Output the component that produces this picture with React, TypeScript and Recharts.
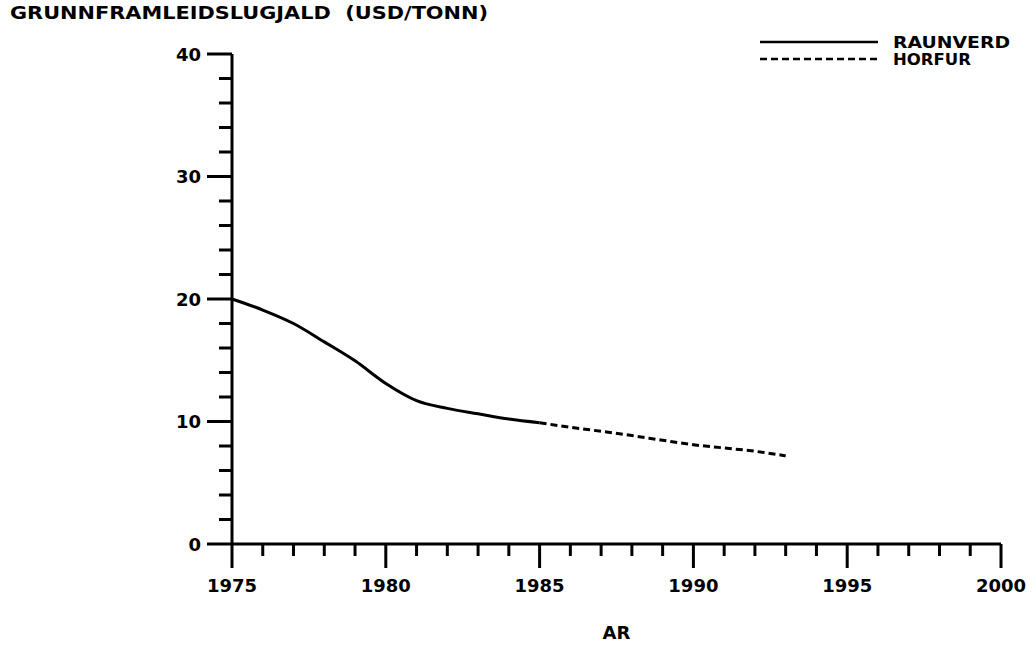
import { LineChart, Line, XAxis, YAxis, Legend } from "recharts"

const years = [1975, 1976, 1977, 1978, 1979, 1980, 1981, 1982, 1983, 1984, 1985, 1986, 1987, 1988, 1989, 1990, 1991, 1992, 1993]
// actual values 1975-1985, forecast 1985-1993
const raunverd = [20.0, 19.1, 18.0, 16.5, 14.95, 13.1, 11.7, 11.07, 10.63, 10.2, 9.9]
const horfur = [9.9, 9.53, 9.2, 8.85, 8.47, 8.1, 7.84, 7.57, 7.2]
const xTicks = [1975, 1976, 1977, 1978, 1979, 1980, 1981, 1982, 1983, 1984, 1985, 1986, 1987, 1988, 1989, 1990, 1991, 1992, 1993, 1994, 1995, 1996, 1997, 1998, 1999, 2000]
const yTicks = [0, 2, 4, 6, 8, 10, 12, 14, 16, 18, 20, 22, 24, 26, 28, 30, 32, 34, 36, 38, 40]
const legendOrder = ["RAUNVERD", "HORFUR"]

const data = years.map((year, i) => ({
  year,
  raunverd: i < raunverd.length ? raunverd[i] : null,
  horfur: i >= raunverd.length - 1 ? horfur[i - (raunverd.length - 1)] : null,
}))

const font = "'DejaVu Sans', sans-serif"
const legendTextWidth: Record<string, number> = { RAUNVERD: 117, HORFUR: 78 }

const XTick = (props: any) => {
  const { x, y, payload } = props
  const major = payload.value % 5 === 0
  return (
    <g>
      <line x1={x} y1={y} x2={x} y2={y + (major ? 24 : 12)} stroke="#000" strokeWidth={3} />
      {major && (
        <text x={x} y={y + 48} textAnchor="middle" fontFamily={font} fontWeight="bold" fontSize={18} fill="#000">
          {payload.value}
        </text>
      )}
    </g>
  )
}

const YTick = (props: any) => {
  const { x, y, payload } = props
  const major = payload.value % 10 === 0
  return (
    <g>
      <line x1={x - (major ? 25 : 13)} y1={y} x2={x} y2={y} stroke="#000" strokeWidth={3} />
      {major && (
        <text x={x - 31} y={y + 6.5} textAnchor="end" fontFamily={font} fontWeight="bold" fontSize={18} fill="#000">
          {payload.value}
        </text>
      )}
    </g>
  )
}

const renderLegend = (props: any) => {
  const items = [...(props.payload || [])].sort(
    (a: any, b: any) => legendOrder.indexOf(a.value) - legendOrder.indexOf(b.value)
  )
  return (
    <svg width={273} height={46}>
      {items.map((entry: any, i: number) => (
        <g key={entry.value}>
          <line
            x1={0}
            y1={13 + i * 17}
            x2={118}
            y2={13 + i * 17}
            stroke="#000"
            strokeWidth={2.5}
            strokeDasharray={entry.payload?.strokeDasharray}
          />
          <text
            x={133}
            y={18.5 + i * 17}
            textLength={legendTextWidth[entry.value]}
            lengthAdjust="spacingAndGlyphs"
            fontFamily={font}
            fontWeight="bold"
            fontSize={15}
            fill="#000"
          >
            {entry.value}
          </text>
        </g>
      ))}
    </svg>
  )
}

export default function App() {
  return (
    <div style={{ position: "absolute", left: 0, top: 0, width: 1033, height: 647, background: "#fff" }}>
      <LineChart width={1033} height={647} data={data} margin={{ top: 54, right: 32, left: 172, bottom: 0 }}>
        <XAxis
          dataKey="year"
          type="number"
          domain={[1975, 2000]}
          ticks={xTicks}
          interval={0}
          tickSize={0}
          tickMargin={0}
          tickLine={false}
          tick={<XTick />}
          height={103}
          axisLine={{ stroke: "#000", strokeWidth: 3 }}
          label={{ value: "AR", position: "insideBottom", offset: 8, fill: "#000", fontFamily: font, fontWeight: "bold", fontSize: 18 }}
        />
        <YAxis
          type="number"
          domain={[0, 40]}
          ticks={yTicks}
          interval={0}
          tickSize={0}
          tickMargin={0}
          tickLine={false}
          tick={<YTick />}
          width={60}
          axisLine={{ stroke: "#000", strokeWidth: 3 }}
          label={{
            content: () => (
              <text
                x={10}
                y={19}
                textLength={478}
                lengthAdjust="spacingAndGlyphs"
                fontFamily={font}
                fontWeight="bold"
                fontSize={18}
                fill="#000"
                style={{ whiteSpace: "pre" }}
              >
                GRUNNFRAMLEIDSLUGJALD  (USD/TONN)
              </text>
            ),
          }}
        />
        <Legend
          layout="vertical"
          align="center"
          verticalAlign="middle"
          content={renderLegend}
          wrapperStyle={{ left: 760, top: 29, width: 273, height: 46 }}
        />
        <Line
          type="monotone"
          dataKey="raunverd"
          name="RAUNVERD"
          stroke="#000"
          strokeWidth={3}
          dot={false}
          isAnimationActive={false}
        />
        <Line
          type="monotone"
          dataKey="horfur"
          name="HORFUR"
          stroke="#000"
          strokeWidth={3}
          strokeDasharray="7 4"
          dot={false}
          isAnimationActive={false}
        />
      </LineChart>
    </div>
  )
}
